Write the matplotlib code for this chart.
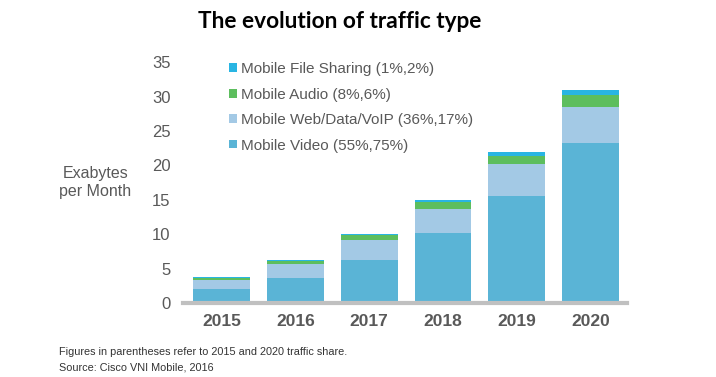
"""
The evolution of traffic type - stacked bar chart (Cisco VNI Mobile, 2016)
"""

import matplotlib.pyplot as plt
from matplotlib.patches import Patch
import numpy as np

# Data (Exabytes per month)
years = ['2015', '2016', '2017', '2018', '2019', '2020']
mobile_video = [2.0, 3.7, 6.3, 10.1, 15.6, 23.2]
mobile_web = [1.4, 1.95, 2.8, 3.5, 4.6, 5.3]
mobile_audio = [0.3, 0.5, 0.8, 1.1, 1.2, 1.7]
mobile_file = [0.05, 0.05, 0.1, 0.3, 0.5, 0.7]

labels = ['Mobile Video (55%,75%)', 'Mobile Web/Data/VoIP (36%,17%)',
          'Mobile Audio (8%,6%)', 'Mobile File Sharing (1%,2%)']
colors = ['#5AB4D6', '#A3C9E5', '#5DBE5E', '#29B5E3']
yticks = [0, 5, 10, 15, 20, 25, 30, 35]

plt.rcParams['font.family'] = ['Liberation Sans', 'DejaVu Sans']
gray = '#595959'

fig = plt.figure(figsize=(7.16, 3.77), dpi=100)
ax = fig.add_axes([0.2556, 0.1963, 0.620, 0.639])

x = np.arange(len(years))
bottom = np.zeros(len(years))
for vals, col in zip([mobile_video, mobile_web, mobile_audio, mobile_file], colors):
    ax.bar(x, vals, bottom=bottom, width=0.77, color=col, edgecolor='none')
    bottom += np.array(vals)

ax.set_xlim(-0.52, 5.49)
ax.set_ylim(0, 35)
ax.set_yticks(yticks)
ax.set_yticklabels([str(t) for t in yticks], fontsize=12, color=gray)
ax.set_xticks(x)
ax.set_xticklabels(years, fontsize=12.5, fontweight='bold', color=gray)
ax.tick_params(axis='both', length=0)
ax.tick_params(axis='y', pad=9)
ax.tick_params(axis='x', pad=8)

for side in ['top', 'right', 'left']:
    ax.spines[side].set_visible(False)
ax.spines['bottom'].set_color('#C0C0C0')
ax.spines['bottom'].set_linewidth(3)

# Legend (reverse order, top to bottom)
handles = [Patch(facecolor=c, edgecolor='none', label=l) for c, l in zip(colors, labels)][::-1]
leg = ax.legend(handles=handles, loc='upper left', bbox_to_anchor=(0.09, 1.025),
                frameon=False, fontsize=11, handlelength=0.5, handleheight=0.5,
                handletextpad=0.25, labelspacing=0.75, borderaxespad=0)
for t in leg.get_texts():
    t.set_color(gray)

fig.text(0.133, 0.515, 'Exabytes\nper Month', ha='center', va='center',
         fontsize=11.5, color=gray, linespacing=1.25)

fig.text(0.475, 0.942, 'The evolution of traffic type', ha='center', va='center',
         fontsize=16.3, fontweight='bold', color='black', family=['Lato', 'DejaVu Sans'])

fig.text(0.082, 0.067, 'Figures in parentheses refer to 2015 and 2020 traffic share.',
         fontsize=7.8, color='#333333', va='center')
fig.text(0.082, 0.025, 'Source: Cisco VNI Mobile, 2016',
         fontsize=7.8, color='#333333', va='center')

plt.savefig('out.png', dpi=100)
